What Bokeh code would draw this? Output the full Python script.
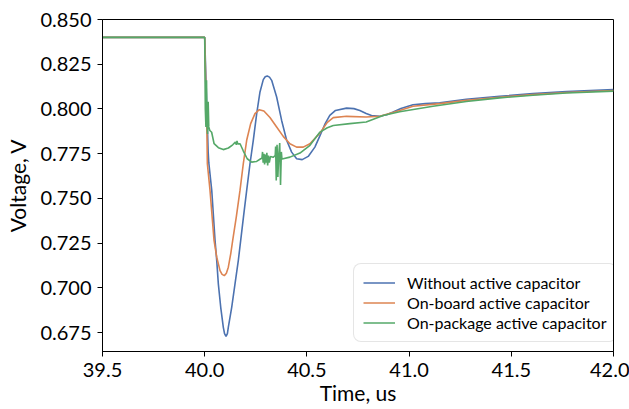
from bokeh.plotting import figure
from bokeh.models import FixedTicker, NumeralTickFormatter, Legend, LegendItem, Range1d
from bokeh.embed import file_html
from bokeh.resources import INLINE

# ---- data ----
t_without = [39.5, 40.0, 40.017, 40.020, 40.0345, 40.0506, 40.0589, 40.0667, 40.0784, 40.0911,
             40.097, 40.1043, 40.111, 40.1155, 40.1321, 40.1483, 40.1644, 40.1761, 40.19, 40.2054,
             40.2216, 40.2377, 40.2544, 40.2705, 40.2866, 40.296, 40.306, 40.317, 40.3276, 40.352,
             40.3764, 40.4009, 40.4253, 40.4497, 40.477, 40.5064, 40.539, 40.5635, 40.59, 40.612,
             40.64, 40.694, 40.73, 40.759, 40.79, 40.816, 40.857, 40.89, 40.922, 40.96,
             41.019, 41.08, 41.15, 41.28, 41.443, 41.606, 41.77, 42.0]
v_without = [0.840, 0.840, 0.776, 0.770, 0.7545, 0.7266, 0.7153, 0.7023, 0.6892, 0.6780,
             0.6745, 0.6729, 0.6745, 0.6780, 0.6892, 0.7023, 0.7153, 0.7266, 0.7400, 0.7545,
             0.7694, 0.7825, 0.7974, 0.8095, 0.8164, 0.8180, 0.8184, 0.8178, 0.8160, 0.8067,
             0.7936, 0.7825, 0.7759, 0.7722, 0.7717, 0.7735, 0.7787, 0.7850, 0.7920, 0.7964,
             0.7992, 0.8005, 0.8002, 0.7992, 0.7975, 0.7964, 0.7959, 0.7968, 0.7983, 0.8003,
             0.8024, 0.8030, 0.8034, 0.8054, 0.8071, 0.8086, 0.8097, 0.8108]

t_onboard = [39.5, 40.0, 40.008, 40.010, 40.013, 40.026, 40.0457, 40.0589, 40.075, 40.085,
             40.096, 40.106, 40.1156, 40.1273, 40.137, 40.155, 40.1727, 40.1888, 40.2054, 40.2249,
             40.246, 40.267, 40.2896, 40.3193, 40.352, 40.3842, 40.417, 40.4497, 40.482, 40.5147,
             40.5635, 40.6, 40.629, 40.694, 40.79, 40.857, 40.954, 41.019, 41.15, 41.28,
             41.443, 41.606, 41.77, 42.0]
v_onboard = [0.840, 0.840, 0.800, 0.7936, 0.7694, 0.7545, 0.7266, 0.7172, 0.7097, 0.7076,
             0.7069, 0.7082, 0.7116, 0.7191, 0.7266, 0.7400, 0.7545, 0.7694, 0.7825, 0.7918,
             0.7974, 0.7996, 0.7989, 0.7952, 0.7899, 0.7847, 0.7806, 0.7787, 0.7787, 0.7806,
             0.7865, 0.7925, 0.7952, 0.7959, 0.7955, 0.7959, 0.7992, 0.8015, 0.8030, 0.8048,
             0.8066, 0.8080, 0.8092, 0.8103]

t_onpackage = [39.5, 40.0, 40.003, 40.006, 40.009, 40.011, 40.014, 40.017, 40.020, 40.025,
               40.034, 40.046, 40.067, 40.091, 40.116, 40.137, 40.150, 40.155, 40.158, 40.162,
               40.173, 40.189, 40.208, 40.230, 40.254, 40.274, 40.280, 40.283, 40.286, 40.290,
               40.293, 40.297, 40.300, 40.304, 40.308, 40.312, 40.316, 40.322, 40.335, 40.345,
               40.347, 40.350, 40.354, 40.358, 40.362, 40.367, 40.371, 40.375, 40.378, 40.384,
               40.417, 40.466, 40.515, 40.564, 40.6, 40.629, 40.71, 40.79, 40.873, 40.954,
               41.117, 41.28, 41.443, 41.606, 41.77, 42.0]
v_onpackage = [0.840, 0.840, 0.800, 0.790, 0.816, 0.792, 0.786, 0.804, 0.790, 0.788,
               0.787, 0.7806, 0.7784, 0.7773, 0.7782, 0.7800, 0.7815, 0.7800, 0.7822, 0.7805,
               0.7806, 0.7765, 0.7722, 0.7703, 0.7707, 0.7722, 0.7725, 0.7760, 0.7700, 0.7750,
               0.7690, 0.7745, 0.7700, 0.7755, 0.7685, 0.7740, 0.7700, 0.7735, 0.7730, 0.7740,
               0.7790, 0.7600, 0.7800, 0.7620, 0.7740, 0.7810, 0.7575, 0.7760, 0.7720, 0.7722,
               0.7731, 0.7754, 0.7797, 0.7871, 0.7895, 0.7908, 0.7918, 0.7927, 0.7964, 0.7985,
               0.8015, 0.8042, 0.8062, 0.8077, 0.8089, 0.8100]

series_names = ["Without active capacitor", "On-board active capacitor", "On-package active capacitor"]
series_colors = ["#4C72B0", "#DD8452", "#55A868"]
x_ticks = [39.5, 40.0, 40.5, 41.0, 41.5, 42.0]
y_ticks = [0.675, 0.700, 0.725, 0.750, 0.775, 0.800, 0.825, 0.850]

FONT = "Lato"

p = figure(width=629, height=409, output_backend="svg", toolbar_location=None,
           x_range=Range1d(39.5, 42.0), y_range=Range1d(0.6645, 0.850),
           min_border_left=102, min_border_right=16, min_border_top=19, min_border_bottom=58)
p.background_fill_color = "white"
p.border_fill_color = "white"
p.xgrid.visible = False
p.ygrid.visible = False
p.outline_line_color = "black"
p.outline_line_alpha = 1.0
p.outline_line_width = 1

r1 = p.line(t_without, v_without, line_color=series_colors[0], line_width=1.6)
r2 = p.line(t_onboard, v_onboard, line_color=series_colors[1], line_width=1.6)
r3 = p.line(t_onpackage, v_onpackage, line_color=series_colors[2], line_width=1.6)

for ax in (p.xaxis[0], p.yaxis[0]):
    ax.axis_line_color = "black"
    ax.major_tick_line_color = "black"
    ax.major_tick_out = 5
    ax.major_tick_in = 0
    ax.minor_tick_line_color = None
    ax.major_label_text_font = FONT
    ax.major_label_text_font_size = "20px"
    ax.major_label_text_color = "black"
    ax.axis_label_text_font = FONT
    ax.axis_label_text_font_size = "21px"
    ax.axis_label_text_font_style = "normal"
    ax.axis_label_text_color = "black"

p.xaxis.ticker = FixedTicker(ticks=x_ticks)
p.yaxis.ticker = FixedTicker(ticks=y_ticks)
p.xaxis.formatter = NumeralTickFormatter(format="0.0")
p.yaxis.formatter = NumeralTickFormatter(format="0.000")
p.xaxis.axis_label = "Time, us"
p.yaxis.axis_label = "Voltage, V"
p.xaxis.major_label_standoff = 6
p.yaxis.major_label_standoff = 6
p.xaxis.axis_label_standoff = 0
p.yaxis.axis_label_standoff = 7

legend = Legend(items=[LegendItem(label=series_names[0], renderers=[r1]),
                       LegendItem(label=series_names[1], renderers=[r2]),
                       LegendItem(label=series_names[2], renderers=[r3])],
                location=(251, 9))
legend.label_text_font = FONT
legend.label_text_font_size = "16px"
legend.label_text_color = "black"
legend.glyph_width = 32
legend.glyph_height = 19
legend.label_standoff = 12
legend.label_height = 19
legend.spacing = 1
legend.padding = 9
legend.margin = 0
legend.border_line_color = "#cccccc"
legend.border_line_width = 1
legend.background_fill_color = "white"
legend.background_fill_alpha = 0.8
if "border_radius" in legend.properties():
    legend.border_radius = 8
p.add_layout(legend, "center")

open("out.html", "w").write(file_html(p, INLINE))
